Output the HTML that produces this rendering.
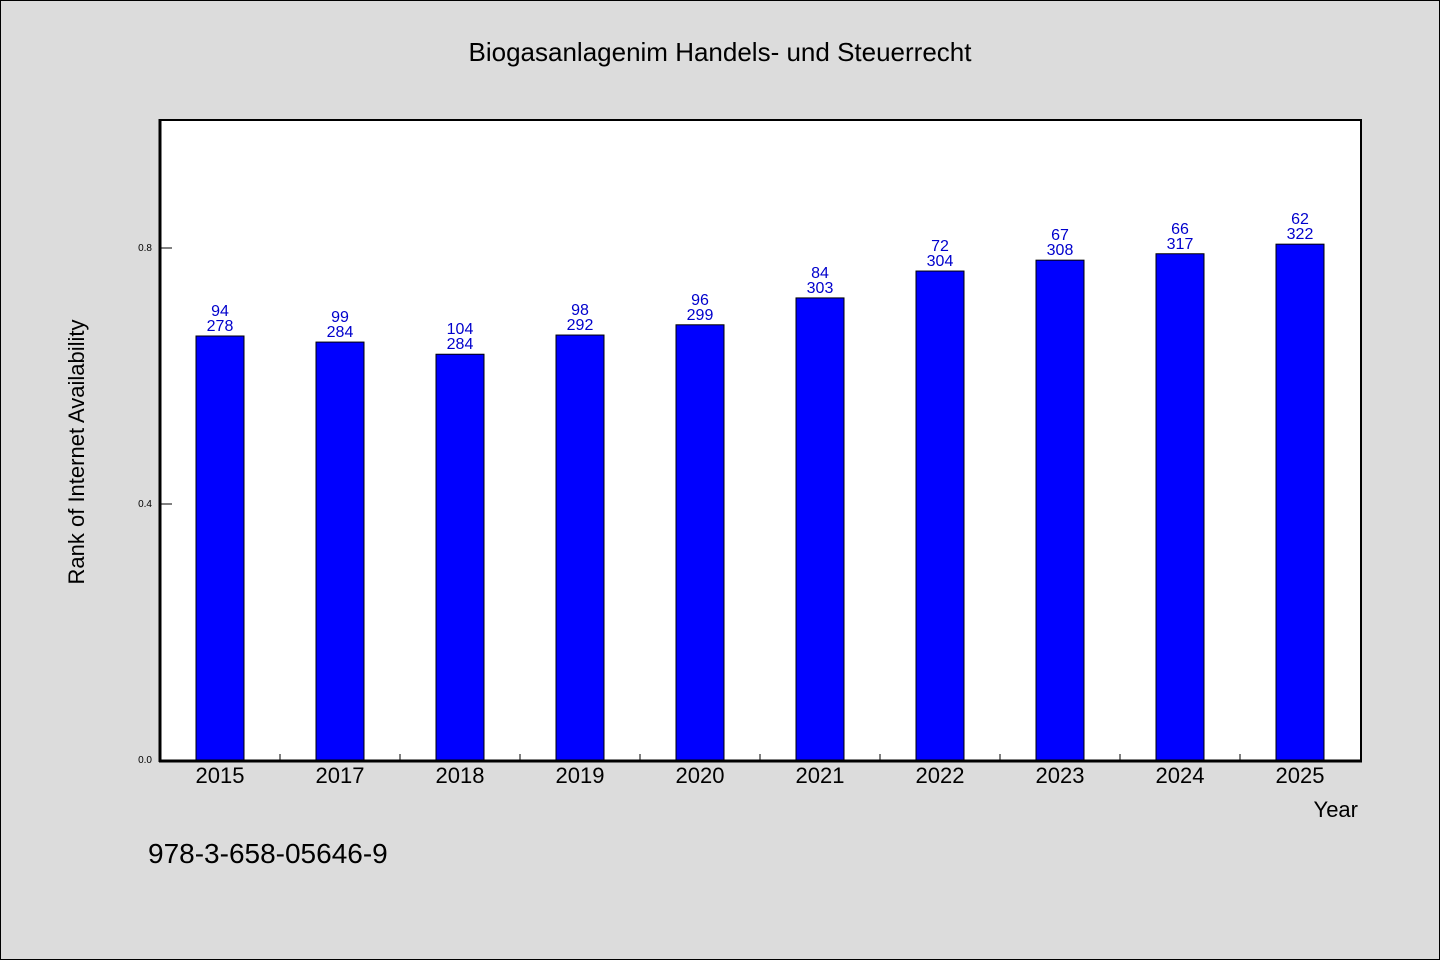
<!DOCTYPE html>
<html><head><meta charset="utf-8"><style>
html,body{margin:0;padding:0;background:#dcdcdc;}
svg{display:block;font-family:"WenQuanYi Zen Hei","Liberation Sans",sans-serif;}
</style></head><body>
<svg id="chart" width="1440" height="960" viewBox="0 0 1440 960">
<rect x="0.5" y="0.5" width="1439" height="959" fill="#dcdcdc" stroke="#000"/>
<text x="720" y="61" text-anchor="middle" font-size="26">Biogasanlagenim Handels- und Steuerrecht</text>
<rect x="160" y="120" width="1201" height="641" fill="#fff" stroke="#000" stroke-width="2"/>
<g id="bars"></g>
<line x1="160" y1="119" x2="160" y2="762" stroke="#000" stroke-width="3"/>
<line x1="159" y1="761" x2="1362" y2="761" stroke="#000" stroke-width="3"/>
<g id="axes"></g>
<text transform="translate(84,452) rotate(-90)" text-anchor="middle" font-size="22">Rank of Internet Availability</text>
<text x="1358" y="817" text-anchor="end" font-size="22">Year</text>
<text x="148" y="863" font-size="28">978-3-658-05646-9</text>
</svg>
<script>
const categories=["2015","2017","2018","2019","2020","2021","2022","2023","2024","2025"];
const values=[0.6625,0.653,0.634,0.664,0.680,0.722,0.764,0.781,0.791,0.806];
const labelTop=["94","99","104","98","96","84","72","67","66","62"];
const labelBottom=["278","284","284","292","299","303","304","308","317","322"];
const yTicks=[0,0.4,0.8];
const yTickLabels=["0.0","0.4","0.8"];
const NS="http://www.w3.org/2000/svg";
const X0=160,BAND=120,Y0=760,YS=640;
const xc=i=>X0+BAND*i+BAND/2;
const y=v=>Y0-v*YS;
const bars=document.getElementById('bars'),axes=document.getElementById('axes');
function mk(tag,attrs,parent,txt){const e=document.createElementNS(NS,tag);for(const k in attrs)e.setAttribute(k,attrs[k]);if(txt!=null)e.textContent=txt;parent.appendChild(e);return e;}
categories.forEach((c,i)=>{
 const r=mk('rect',{x:xc(i)-24,y:y(values[i]),width:48,height:Y0-y(values[i]),fill:'#0000ff',stroke:'#000','stroke-width':1},bars);
 
 
 const t1=mk('text',{x:xc(i),y:y(values[i])-20,'text-anchor':'middle','font-size':16,fill:'#0000cc'},bars,labelTop[i]);
 
 
 const t2=mk('text',{x:xc(i),y:y(values[i])-5,'text-anchor':'middle','font-size':16,fill:'#0000cc'},bars,labelBottom[i]);
 
 
 const xl=mk('text',{x:xc(i),y:783,'text-anchor':'middle','font-size':22},axes,c);
 
 
 if(i>0){const tk=mk('line',{x1:X0+BAND*i,x2:X0+BAND*i,y1:760,y2:754,stroke:'#000'},axes);
 
 }
});
yTicks.forEach((v,i)=>{
 const tk=mk('line',{x1:160,x2:172,y1:y(v),y2:y(v),stroke:'#000'},axes);
 
 
 const tl=mk('text',{x:152,y:y(v)+3,'text-anchor':'end','font-size':10},axes,yTickLabels[i]);
 
 
});
</script>
</body></html>
